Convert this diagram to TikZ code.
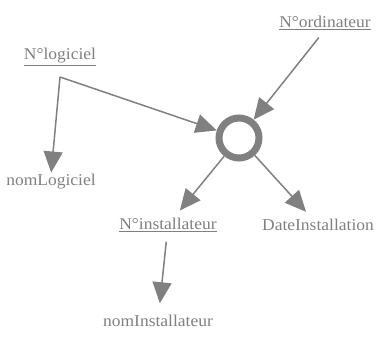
\documentclass[tikz,border=0pt]{standalone}
\usepackage{fontspec}
\setmainfont[FakeStretch=1.06]{Liberation Serif}
\usetikzlibrary{arrows.meta}
\definecolor{mygray}{RGB}{128,128,128}
\tikzset{
  lbl/.style={text=mygray, font=\fontsize{16.5}{18}\selectfont, inner sep=0pt, outer sep=0pt},
  arr/.style={draw=mygray, line width=1.5pt, -{Triangle[length=21pt,width=19pt]}},
  ring/.style={circle, draw=mygray, line width=7pt, minimum size=40pt, inner sep=0pt},
}
\newcommand{\ul}[1]{\underline{#1}}
\begin{document}
\begin{tikzpicture}[x=1pt,y=-1pt]
\useasboundingbox (0,0) rectangle (382,338);
\node[lbl] (ord) at (325,23) {\ul{N°ordinateur}};
\node[lbl] (lg) at (60,57) {\ul{N°logiciel}};
\node[ring] (c) at (239,138) {};
\node[lbl] (nlg) at (51,182) {nomLogiciel};
\node[lbl] (inst) at (168,225) {\ul{N°installateur}};
\node[lbl] (date) at (318,225) {DateInstallation};
\node[lbl] (ninst) at (158,321) {nomInstallateur};
\coordinate (f) at (60,77);
\draw[arr] (f) -- (c);
\draw[arr, shorten >=2pt] (f) -- (nlg.north);
\draw[arr, shorten <=10pt] (ord.south) -- (c);
\draw[arr, shorten >=10pt] (c) -- (inst);
\draw[arr, shorten >=10pt] (c) -- (date);
\draw[arr, shorten <=10pt, shorten >=12pt] (inst) -- (ninst);
\end{tikzpicture}
\end{document}
